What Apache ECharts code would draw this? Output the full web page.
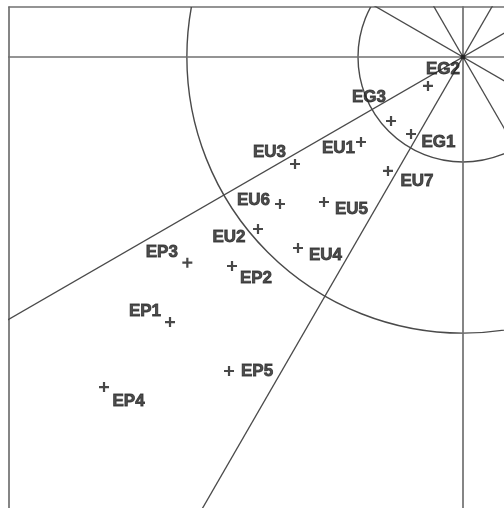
<!DOCTYPE html>
<html>
<head>
<meta charset="utf-8">
<script src="https://cdn.jsdelivr.net/npm/echarts@6/dist/echarts.min.js"></script>
<style>
html,body{margin:0;padding:0;background:#fff;}
#chart{width:504px;height:508px;}
</style>
</head>
<body>
<div id="chart"></div>
<script>
// ---- data (units: small circle radius = 20) ----
const categories = ['EG2','EG3','EG1','EU1','EU3','EU7','EU6','EU5','EU2','EU4','EP3','EP2','EP1','EP5','EP4'];
const xValues = [-6.67,-13.71,-9.90,-19.43,-32.00,-14.29,-34.86,-26.48,-39.05,-31.43,-52.51,-44.00,-55.81,-44.57,-68.38];
const yValues = [-5.52,-12.19,-14.67,-16.19,-20.38,-21.71,-28.00,-27.62,-32.76,-36.38,-39.18,-39.81,-50.48,-59.81,-62.86];
const circleRadii = [20, 52.6];
const rayAngles = [0, 30, 60, 90, 120, 150];
const axisX = { min: -86.48, max: 7.81 };
const axisY = { min: -85.9, max: 9.52 };

// ---- label placement (px offsets of label centre from the marker) ----
const labelOffsets = {
  EG2:[15,-17], EG3:[-22,-24], EG1:[27.5,8], EU1:[-22.5,6], EU3:[-25.5,-12],
  EU7:[29,10], EU6:[-26.5,-4], EU5:[27.5,7], EU2:[-29,8], EU4:[27.5,7],
  EP3:[-25.5,-10], EP2:[24,12], EP1:[-25,-11], EP5:[28,0], EP4:[24.5,14]
};

const chart = echarts.init(document.getElementById('chart'), null, {renderer:'canvas'});

const rayLen = 200;
const raySeries = rayAngles.map(a => {
  const r = a * Math.PI / 180;
  const main = (a === 0 || a === 90);
  return {
    type: 'line',
    data: [[-rayLen*Math.cos(r), -rayLen*Math.sin(r)], [rayLen*Math.cos(r), rayLen*Math.sin(r)]],
    symbol: 'none',
    clip: true,
    silent: true,
    lineStyle: { color: main ? '#707070' : '#4a4a4a', width: main ? 1.7 : 1.3 },
    z: 1
  };
});

const circleSeries = {
  type: 'custom',
  clip: true,
  silent: true,
  data: circleRadii.map(r => [r]),
  encode: { x: -1, y: -1 },
  renderItem: function (params, api) {
    const c = api.coord([0, 0]);
    const rad = api.value(0);
    const rpx = api.size([rad, 0])[0];
    return {
      type: 'circle',
      shape: { cx: c[0], cy: c[1], r: rpx },
      style: { fill: 'none', stroke: '#4a4a4a', lineWidth: 1.4 }
    };
  },
  z: 1
};

const pointSeries = {
  type: 'scatter',
  symbol: 'path://M3.9,0H6.1V3.9H10V6.1H6.1V10H3.9V6.1H0V3.9H3.9Z',
  symbolSize: 10,
  itemStyle: { color: '#1a1a1a' },
  data: categories.map((name, i) => ({
    name: name,
    value: [xValues[i], yValues[i]],
    label: { offset: labelOffsets[name] }
  })),
  label: {
    show: true,
    position: 'inside',
    align: 'center',
    verticalAlign: 'middle',
    formatter: p => p.name,
    fontFamily: '"Liberation Sans", Arial, sans-serif',
    fontWeight: 'bold',
    fontSize: 17,
    color: '#222',
    textBorderColor: '#222',
    textBorderWidth: 0.8
  },
  z: 5
};

const centerDot = {
  type: 'scatter',
  symbol: 'circle',
  symbolSize: 5,
  itemStyle: { color: '#1a1a1a' },
  data: [[0, 0]],
  silent: true,
  z: 4
};

chart.setOption({
  animation: false,
  backgroundColor: '#fff',
  grid: { left: 9, top: 7, right: 0, bottom: 0, containLabel: false },
  xAxis: {
    type: 'value', position: 'top', min: axisX.min, max: axisX.max,
    axisLine: { show: true, onZero: false, lineStyle: { color: '#707070', width: 1.7 } },
    axisTick: { show: false }, axisLabel: { show: false }, splitLine: { show: false }
  },
  yAxis: {
    type: 'value', position: 'left', min: axisY.min, max: axisY.max,
    axisLine: { show: true, onZero: false, lineStyle: { color: '#707070', width: 1.7 } },
    axisTick: { show: false }, axisLabel: { show: false }, splitLine: { show: false }
  },
  series: [circleSeries].concat(raySeries, [centerDot, pointSeries])
});
</script>
</body>
</html>
